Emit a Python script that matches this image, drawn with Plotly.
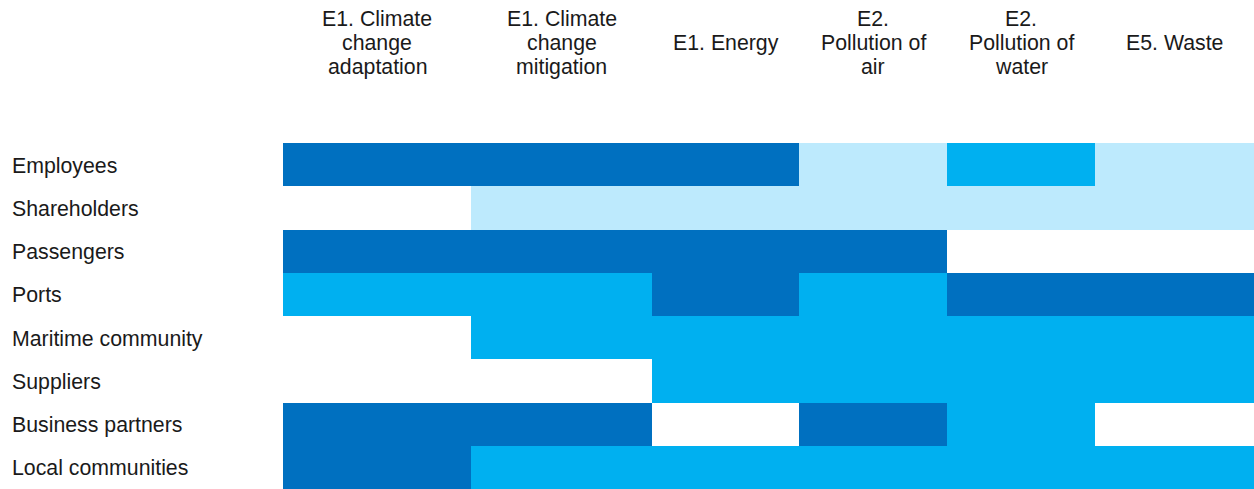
import plotly.graph_objects as go

# ---- data ----
topics = [
    "E1. Climate<br>change<br>adaptation",
    "E1. Climate<br>change<br>mitigation",
    "E1. Energy",
    "E2.<br>Pollution of<br>air",
    "E2.<br>Pollution of<br>water",
    "E5. Waste",
]
stakeholders = [
    "Employees",
    "Shareholders",
    "Passengers",
    "Ports",
    "Maritime community",
    "Suppliers",
    "Business partners",
    "Local communities",
]
# 0 = none (white), 1 = light, 2 = medium, 3 = high
employees = [3, 3, 3, 1, 2, 1]
shareholders = [0, 1, 1, 1, 1, 1]
passengers = [3, 3, 3, 3, 0, 0]
ports = [2, 2, 3, 2, 3, 3]
maritime_community = [0, 2, 2, 2, 2, 2]
suppliers = [0, 0, 2, 2, 2, 2]
business_partners = [3, 3, 0, 3, 2, 0]
local_communities = [3, 2, 2, 2, 2, 2]

z = [employees, shareholders, passengers, ports,
     maritime_community, suppliers, business_partners, local_communities]

# ---- layout constants ----
W, H = 1254, 489
ML, MT = 283, 143
PW, PH = W - ML, H - MT
col_widths = [188, 181, 147, 148, 148, 159]
edges = [0]
for w in col_widths:
    edges.append(edges[-1] + w)

colors = ["#FFFFFF", "#BDEAFD", "#00B0F0", "#0070C0"]
colorscale = [[i / 3, c] for i, c in enumerate(colors)]
FONT = "Liberation Sans, Arial, sans-serif"
FS = 21.3

fig = go.Figure(go.Heatmap(
    z=z, x=edges, y=list(range(len(stakeholders))),
    colorscale=colorscale, zmin=0, zmax=3, showscale=False,
    hoverinfo="skip", xgap=0, ygap=0,
))

annotations = []
# column headers (each line placed separately for tight line spacing)
LINE = 24
CENTER_Y = 43
for i, t in enumerate(topics):
    lines = t.split("<br>")
    n = len(lines)
    xc = (edges[i] + edges[i + 1]) / 2
    for k, ln in enumerate(lines):
        py = CENTER_Y + (k - (n - 1) / 2) * LINE
        annotations.append(dict(
            text=ln, x=xc, xref="x", y=1 + (MT - py) / PH, yref="paper",
            xanchor="center", yanchor="middle", showarrow=False,
            font=dict(family=FONT, size=FS, color="#1a1a1a"),
        ))
# row labels
for j, s in enumerate(stakeholders):
    annotations.append(dict(
        text=s, x=(10 - ML) / PW, xref="paper", y=j, yref="y", yshift=-1,
        xanchor="left", yanchor="middle", showarrow=False,
        font=dict(family=FONT, size=FS, color="#1a1a1a"),
    ))

fig.update_layout(
    width=W, height=H,
    margin=dict(l=ML, r=0, t=MT, b=0, pad=0),
    paper_bgcolor="white", plot_bgcolor="white",
    xaxis=dict(range=[0, edges[-1]], visible=False, fixedrange=True),
    yaxis=dict(range=[len(stakeholders) - 0.5, -0.5], visible=False, fixedrange=True),
    annotations=annotations,
    showlegend=False,
)

fig.write_html("out.html", config={"displayModeBar": False})
